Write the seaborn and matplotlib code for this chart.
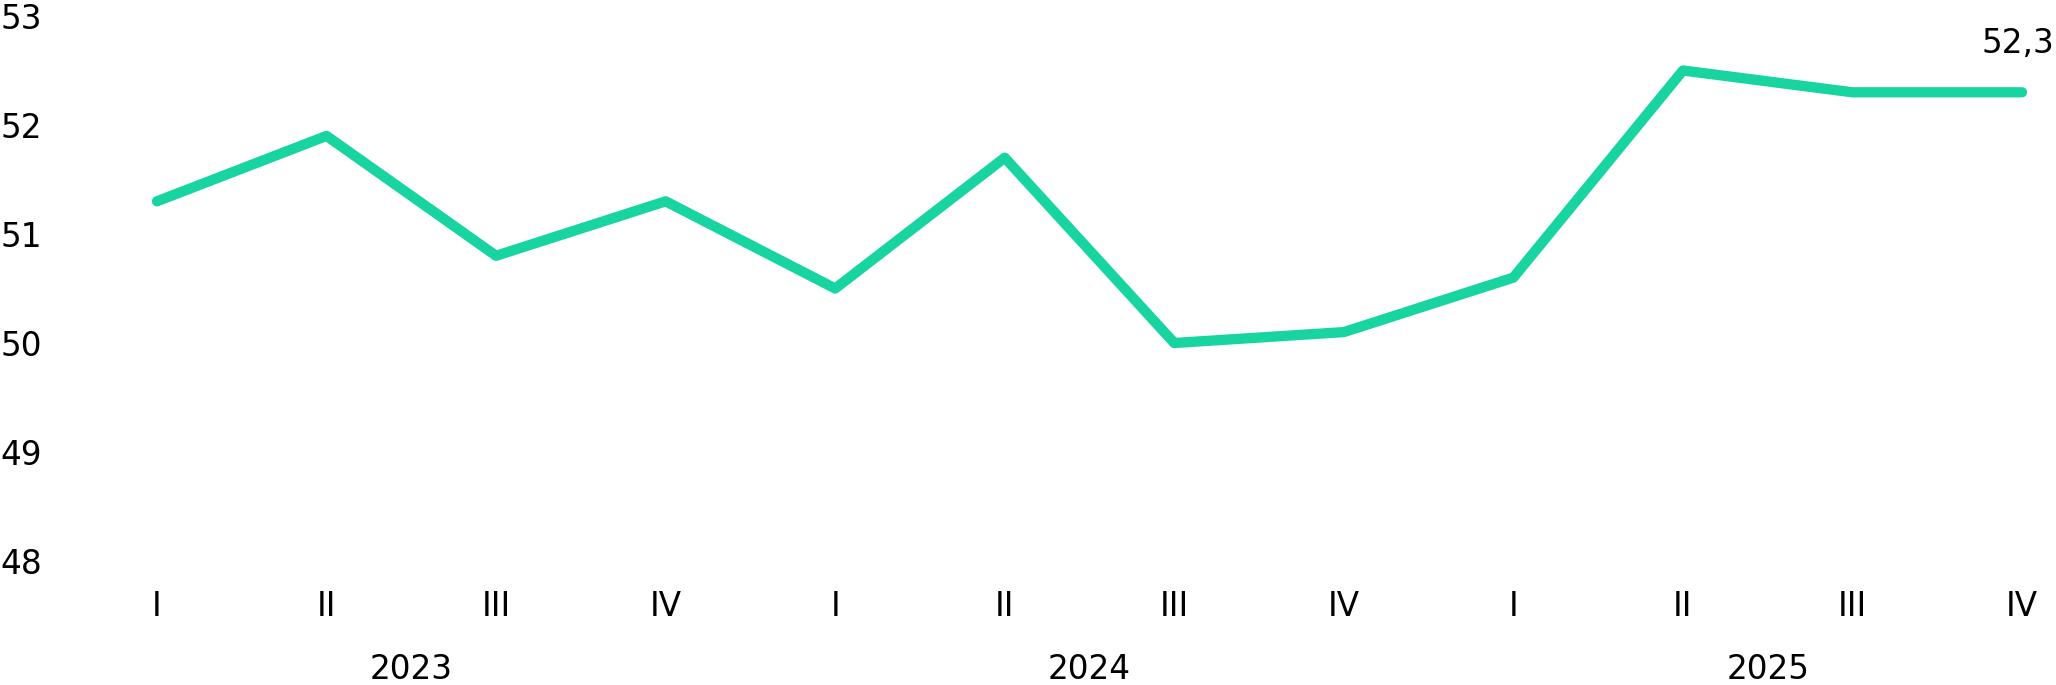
import numpy as np
import pandas as pd
import seaborn as sns
import matplotlib.pyplot as plt

# ---- data ----
quarters = ["I", "II", "III", "IV"] * 3
years = ["2023", "2024", "2025"]
values = [51.3, 51.9, 50.8, 51.3, 50.5, 51.7, 50.0, 50.1, 50.6, 52.5, 52.3, 52.3]
y_ticks = [48, 49, 50, 51, 52, 53]

df = pd.DataFrame({"pos": np.arange(len(values)), "value": values})

sns.set_theme(style="white")
plt.rcParams["font.family"] = ["DejaVu Sans"]
plt.rcParams["text.color"] = "black"

FS = 23.5
W, H = 2056, 685
fig = plt.figure(figsize=(W / 100, H / 100), dpi=100)
ax = fig.add_axes([157 / W, 124 / H, (2022 - 157) / W, 545 / H])

sns.lineplot(data=df, x="pos", y="value", ax=ax, color="#17d4a0", linewidth=7.4,
             solid_capstyle="round", solid_joinstyle="round")
for line in ax.lines:
    line.set_clip_on(False)

ax.set_xlim(0, len(values) - 1)
ax.set_ylim(min(y_ticks), max(y_ticks))
sns.despine(ax=ax, left=True, bottom=True)
ax.set_xlabel("")
ax.set_ylabel("")

# axis labels
ax.set_xticks(df["pos"], quarters)
ax.set_yticks(y_ticks, [str(v) for v in y_ticks])
ax.tick_params(axis="y", length=0, pad=113, labelsize=FS, labelcolor="black")
ax.tick_params(axis="x", length=0, pad=21, labelsize=FS, labelcolor="black")
for lab in ax.get_yticklabels():
    lab.set_horizontalalignment("left")

# year labels centred under each group of quarters
for i, yr in enumerate(years):
    ax.annotate(yr, xy=(i * 4 + 1.5, 0), xycoords=ax.get_xaxis_transform(),
                xytext=(0, -78), textcoords="offset points",
                ha="center", va="center", fontsize=FS, color="black")

# last value label
last = f"{values[-1]:.1f}".replace(".", ",")
ax.annotate(last, xy=(df["pos"].iloc[-1], values[-1]), xytext=(-3, 35),
            textcoords="offset points", ha="center", va="center",
            fontsize=FS, color="black", annotation_clip=False)

fig.savefig("out.png", dpi=100)
